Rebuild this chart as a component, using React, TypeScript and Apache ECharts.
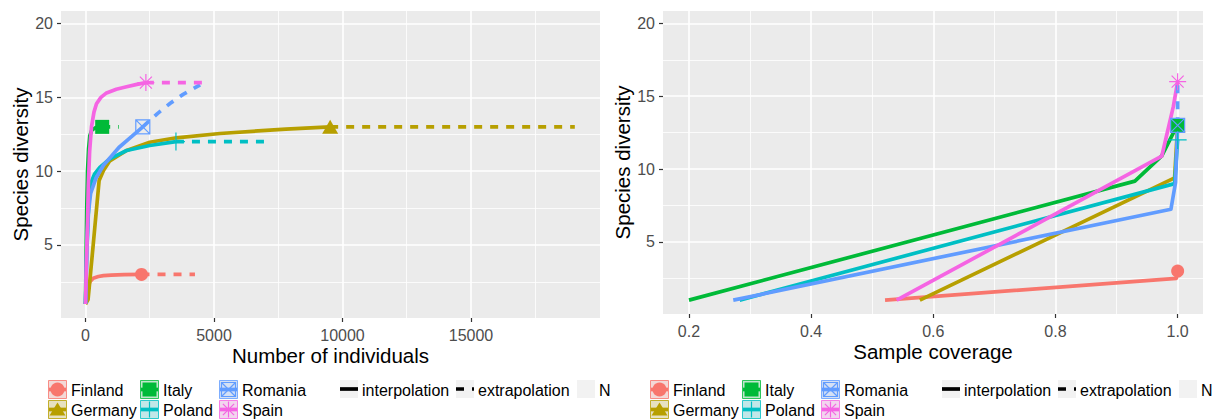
import React, { useEffect, useRef } from "react";
import * as echarts from "echarts";

const FONT = '"Liberation Sans", Arial, Helvetica, sans-serif';

const countries = ["Finland", "Germany", "Italy", "Poland", "Romania", "Spain"];
const colors = ["#F8766D", "#B79F00", "#00BA38", "#00BFC4", "#619CFF", "#F564E3"];

// ---- Left panel: size-based (number of individuals, species diversity)
const finlandInterpL = [[1, 1], [50, 1.7], [100, 2.15], [170, 2.5], [300, 2.75], [500, 2.86], [700, 2.92], [1000, 2.96], [1500, 2.99], [2180, 3]];
const finlandExtrapL = [[2180, 3], [3200, 3], [4260, 3]];
const germanyInterpL = [[1, 1], [100, 1.3], [300, 5], [530, 9.36], [700, 10.05], [946, 10.7], [1600, 11.4], [2500, 11.96], [3540, 12.26], [5230, 12.55], [7800, 12.85], [9520, 13]];
const germanyExtrapL = [[9520, 13], [19040, 13]];
const italyInterpL = [[1, 1], [15, 3], [30, 5], [50, 7.5], [80, 10], [120, 11.5], [170, 12.4], [250, 12.8], [400, 12.95], [650, 13]];
const italyExtrapL = [[650, 13], [1300, 13]];
const polandInterpL = [[1, 1], [50, 4.5], [120, 7.5], [194, 9.14], [350, 9.8], [557, 10.26], [946, 10.83], [1600, 11.4], [2500, 11.74], [3520, 12]];
const polandExtrapL = [[3520, 12], [7040, 12]];
const romaniaInterpL = [[1, 1], [40, 4], [100, 7], [200, 8.5], [400, 9.5], [700, 10.4], [1000, 11], [1300, 11.6], [1700, 12.2], [2230, 13]];
const romaniaExtrapL = [[2230, 13], [2800, 13.9], [3300, 14.6], [3800, 15.2], [4460, 15.85]];
const spainInterpL = [[1, 1], [40, 4], [80, 6.5], [110, 9], [160, 11.3], [233, 13], [330, 14], [428, 14.57], [600, 15], [817, 15.3], [1200, 15.55], [1600, 15.72], [2000, 15.88], [2350, 16]];
const spainExtrapL = [[2350, 16], [4700, 16]];
const observedL = [[2180, 3], [9520, 13], [650, 13], [3520, 12], [2230, 13], [2350, 16]];

// ---- Right panel: coverage-based (sample coverage, species diversity)
const finlandCov = [[0.521, 1], [0.998, 2.5], [1.0, 3]];
const germanyCov = [[0.578, 1], [0.995, 9.4], [1.0, 13]];
const italyCov = [[0.2, 1], [0.93, 9.17], [0.974, 10.9], [0.993, 12.48], [1.0, 13]];
const polandCov = [[0.283, 1], [0.995, 9.0], [1.0, 12]];
const romaniaCov = [[0.2725, 1], [0.989, 7.24], [0.9965, 9.06], [1.0, 13]];
const spainCov = [[0.54, 1], [0.974, 10.88], [0.993, 14.3], [1.0, 16]];
const finlandCovExtrap = [[1.0, 3], [1.0, 3]];
const germanyCovExtrap = [[1.0, 13], [1.0, 13]];
const italyCovExtrap = [[1.0, 13], [1.0, 13]];
const polandCovExtrap = [[1.0, 12], [1.0, 12]];
const romaniaCovExtrap = [[1.0, 13], [1.0, 15.85]];
const spainCovExtrap = [[1.0, 16], [1.0, 16]];
const observedR = [[1.0, 3], [1.0, 13], [1.0, 13], [1.0, 12], [1.0, 13], [1.0, 16]];

// ---- Axes
const leftXTicks = [0, 5000, 10000, 15000];
const leftXMinor = [2500, 7500, 12500, 17500];
const rightXTicks = [0.2, 0.4, 0.6, 0.8, 1.0];
const rightXMinor = [0.3, 0.5, 0.7, 0.9];
const yTicks = [5, 10, 15, 20];
const yMinor = [2.5, 7.5, 12.5, 17.5];

const interpL = [finlandInterpL, germanyInterpL, italyInterpL, polandInterpL, romaniaInterpL, spainInterpL];
const extrapL = [finlandExtrapL, germanyExtrapL, italyExtrapL, polandExtrapL, romaniaExtrapL, spainExtrapL];
const interpR = [finlandCov, germanyCov, italyCov, polandCov, romaniaCov, spainCov];
const extrapR = [finlandCovExtrap, germanyCovExtrap, italyCovExtrap, polandCovExtrap, romaniaCovExtrap, spainCovExtrap];

const PLUS = "path://M0,5L10,5M5,0L5,10";
const BOXX = "path://M0,0L10,0L10,10L0,10ZM0,0L10,10M10,0L0,10";
const AST = "path://M5,0L5,10M0,5L10,5M1.46,1.46L8.54,8.54M8.54,1.46L1.46,8.54";
const symbols = ["circle", "triangle", "rect", PLUS, BOXX, AST];
const symbolSizes: any[] = [13, [16, 14], 14, 18, 14, 17];
const filled = [true, true, true, false, false, false];

function rgba(hex: string, a: number) {
  const r = parseInt(hex.slice(1, 3), 16), g = parseInt(hex.slice(3, 5), 16), b = parseInt(hex.slice(5, 7), 16);
  return `rgba(${r},${g},${b},${a})`;
}

const LW = 3.7;
const TICK_FS = 16;
const TITLE_FS = 20.5;
const LEG_FS = 16;

function gridLines(idx: number, xMaj: number[], xMin: number[]) {
  const maj = { color: "#ffffff", width: 1.6, type: "solid" };
  const min = { color: "#ffffff", width: 0.8, type: "solid" };
  return {
    type: "line",
    xAxisIndex: idx,
    yAxisIndex: idx,
    data: [],
    silent: true,
    z: 1,
    markLine: {
      silent: true,
      z: 1,
      symbol: ["none", "none"],
      label: { show: false },
      emphasis: { disabled: true },
      animation: false,
      data: [
        ...xMin.map((v) => ({ xAxis: v, lineStyle: min })),
        ...yMinor.map((v) => ({ yAxis: v, lineStyle: min })),
        ...xMaj.map((v) => ({ xAxis: v, lineStyle: maj })),
        ...yTicks.map((v) => ({ yAxis: v, lineStyle: maj })),
      ],
    },
  };
}

function panelSeries(idx: number, interp: number[][][], extrap: number[][][], obs: number[][]) {
  const out: any[] = [];
  countries.forEach((c, i) => {
    out.push({
      type: "line", name: c, xAxisIndex: idx, yAxisIndex: idx, data: interp[i], showSymbol: false, symbol: "none", z: 2,
      lineStyle: { color: colors[i], width: LW, join: "round" },
    });
  });
  countries.forEach((c, i) => {
    out.push({
      type: "line", name: c + " extrap", xAxisIndex: idx, yAxisIndex: idx, data: extrap[i], showSymbol: false, symbol: "none", z: 2,
      lineStyle: { color: colors[i], width: LW, type: [8, 8] },
    });
  });
  countries.forEach((c, i) => {
    out.push({
      type: "scatter", name: c + " obs", xAxisIndex: idx, yAxisIndex: idx, data: [obs[i]], z: 3,
      symbol: symbols[i], symbolSize: symbolSizes[i],
      itemStyle: filled[i]
        ? { color: colors[i], opacity: 1 }
        : { color: "rgba(0,0,0,0)", borderColor: colors[i], borderWidth: 1.2, opacity: 1 },
    });
  });
  return out;
}

function legendGraphics(dx: number) {
  const els: any[] = [];
  const colX = [48, 140, 219];
  const rowY = [380, 400];
  const S = 18;
  countries.forEach((c, i) => {
    const cx0 = colX[[0, 0, 1, 1, 2, 2][i]] + dx;
    const ry = rowY[i % 2];
    const color = colors[i];
    els.push({ type: "rect", shape: { x: cx0 + 0.5, y: ry + 0.5, width: S, height: S }, style: { fill: "#F2F2F2", stroke: null } });
    els.push({ type: "rect", shape: { x: cx0 + 0.5, y: ry + 0.5, width: S, height: S }, style: { fill: rgba(color, 0.2), stroke: rgba(color, 0.8), lineWidth: 1 } });
    const mx = cx0 + 0.5 + S / 2, my = ry + 0.5 + S / 2;
    els.push({ type: "line", shape: { x1: cx0 + 1, y1: my, x2: cx0 + S, y2: my }, style: { stroke: color, lineWidth: LW } });
    if (i === 0) els.push({ type: "circle", shape: { cx: mx, cy: my, r: 7 }, style: { fill: color } });
    if (i === 1) els.push({ type: "polygon", shape: { points: [[mx, my - 7], [mx + 8, my + 6], [mx - 8, my + 6]] }, style: { fill: color } });
    if (i === 2) els.push({ type: "rect", shape: { x: mx - 7, y: my - 7, width: 14, height: 14 }, style: { fill: color } });
    if (i === 3) {
      els.push({ type: "line", shape: { x1: mx - 8, y1: my, x2: mx + 8, y2: my }, style: { stroke: color, lineWidth: 1.2 } });
      els.push({ type: "line", shape: { x1: mx, y1: my - 8, x2: mx, y2: my + 8 }, style: { stroke: color, lineWidth: 1.2 } });
    }
    if (i === 4) {
      els.push({ type: "rect", shape: { x: mx - 7, y: my - 7, width: 14, height: 14 }, style: { fill: "none", stroke: color, lineWidth: 1.2 } });
      els.push({ type: "line", shape: { x1: mx - 7, y1: my - 7, x2: mx + 7, y2: my + 7 }, style: { stroke: color, lineWidth: 1.2 } });
      els.push({ type: "line", shape: { x1: mx + 7, y1: my - 7, x2: mx - 7, y2: my + 7 }, style: { stroke: color, lineWidth: 1.2 } });
    }
    if (i === 5) {
      const r = 8, d = 5.6;
      els.push({ type: "line", shape: { x1: mx - r, y1: my, x2: mx + r, y2: my }, style: { stroke: color, lineWidth: 1.2 } });
      els.push({ type: "line", shape: { x1: mx, y1: my - r, x2: mx, y2: my + r }, style: { stroke: color, lineWidth: 1.2 } });
      els.push({ type: "line", shape: { x1: mx - d, y1: my - d, x2: mx + d, y2: my + d }, style: { stroke: color, lineWidth: 1.2 } });
      els.push({ type: "line", shape: { x1: mx + d, y1: my - d, x2: mx - d, y2: my + d }, style: { stroke: color, lineWidth: 1.2 } });
    }
    els.push({ type: "text", x: cx0 + 23, y: my + 1, style: { text: c, fill: "#000", fontSize: LEG_FS, fontFamily: FONT, verticalAlign: "middle", align: "left" } });
  });
  // linetype legend
  const ltY = 380;
  const items = [
    { x: 340, label: "interpolation", kind: "solid" },
    { x: 456, label: "extrapolation", kind: "dash" },
    { x: 577, label: "N", kind: "none" },
  ];
  items.forEach((it) => {
    const x0 = it.x + dx;
    els.push({ type: "rect", shape: { x: x0, y: ltY, width: S, height: S }, style: { fill: "#F2F2F2" } });
    const my = ltY + S / 2;
    if (it.kind === "solid") els.push({ type: "line", shape: { x1: x0, y1: my, x2: x0 + S, y2: my }, style: { stroke: "#000", lineWidth: LW } });
    if (it.kind === "dash") els.push({ type: "line", shape: { x1: x0, y1: my, x2: x0 + S, y2: my }, style: { stroke: "#000", lineWidth: LW, lineDash: [8, 8] } });
    els.push({ type: "text", x: x0 + S + 4, y: my + 1, style: { text: it.label, fill: "#000", fontSize: LEG_FS, fontFamily: FONT, verticalAlign: "middle", align: "left" } });
  });
  return els;
}

function xAxis(idx: number, min: number, max: number, ticks: number[], name: string, fmt: (v: number) => string) {
  return {
    type: "value", gridIndex: idx, min, max,
    axisLine: { show: false, onZero: false },
    axisTick: { show: true, length: 4, lineStyle: { color: "#333333", width: 1.2 }, customValues: ticks },
    axisLabel: { customValues: ticks, color: "#4D4D4D", fontSize: TICK_FS, fontFamily: FONT, margin: 9, formatter: fmt },
    splitLine: { show: false },
    name, nameLocation: "middle", nameGap: 27, nameMoveOverlap: false,
    nameTextStyle: { fontSize: TITLE_FS, color: "#000", fontFamily: FONT },
  };
}

function yAxis(idx: number) {
  return {
    type: "value", gridIndex: idx, min: 0.05, max: 20.85,
    axisLine: { show: false, onZero: false },
    axisTick: { show: true, length: 4, lineStyle: { color: "#333333", width: 1.2 }, customValues: yTicks },
    axisLabel: { customValues: yTicks, color: "#4D4D4D", fontSize: TICK_FS, fontFamily: FONT, margin: 8, formatter: (v: number) => String(v) },
    splitLine: { show: false },
    name: "Species diversity", nameLocation: "middle", nameGap: 30, nameRotate: 90,
    nameTextStyle: { fontSize: TITLE_FS, color: "#000", fontFamily: FONT },
  };
}

export default function App() {
  const ref = useRef<HTMLDivElement>(null);
  useEffect(() => {
    const chart = echarts.init(ref.current!, null, { renderer: "svg" });
    const option: any = {
      animation: false,
      backgroundColor: "#ffffff",
      textStyle: { fontFamily: FONT },
      grid: [
        { left: 61, top: 11, width: 539, height: 307, show: true, backgroundColor: "#EBEBEB", borderWidth: 0 },
        { left: 663, top: 11, width: 540, height: 303, show: true, backgroundColor: "#EBEBEB", borderWidth: 0 },
      ],
      xAxis: [
        xAxis(0, -953, 20020, leftXTicks, "Number of individuals", (v: number) => String(v)),
        xAxis(1, 0.1575, 1.0415, rightXTicks, "Sample coverage", (v: number) => v.toFixed(1)),
      ],
      yAxis: [yAxis(0), yAxis(1)],
      series: [
        gridLines(0, leftXTicks, leftXMinor),
        gridLines(1, rightXTicks, rightXMinor),
        ...panelSeries(0, interpL, extrapL, observedL),
        ...panelSeries(1, interpR, extrapR, observedR),
      ],
      graphic: [...legendGraphics(0), ...legendGraphics(602)],
    };
    chart.setOption(option);
    return () => chart.dispose();
  }, []);
  return <div ref={ref} style={{ position: "absolute", left: 0, top: 0, width: 1218, height: 419 }} />;
}
